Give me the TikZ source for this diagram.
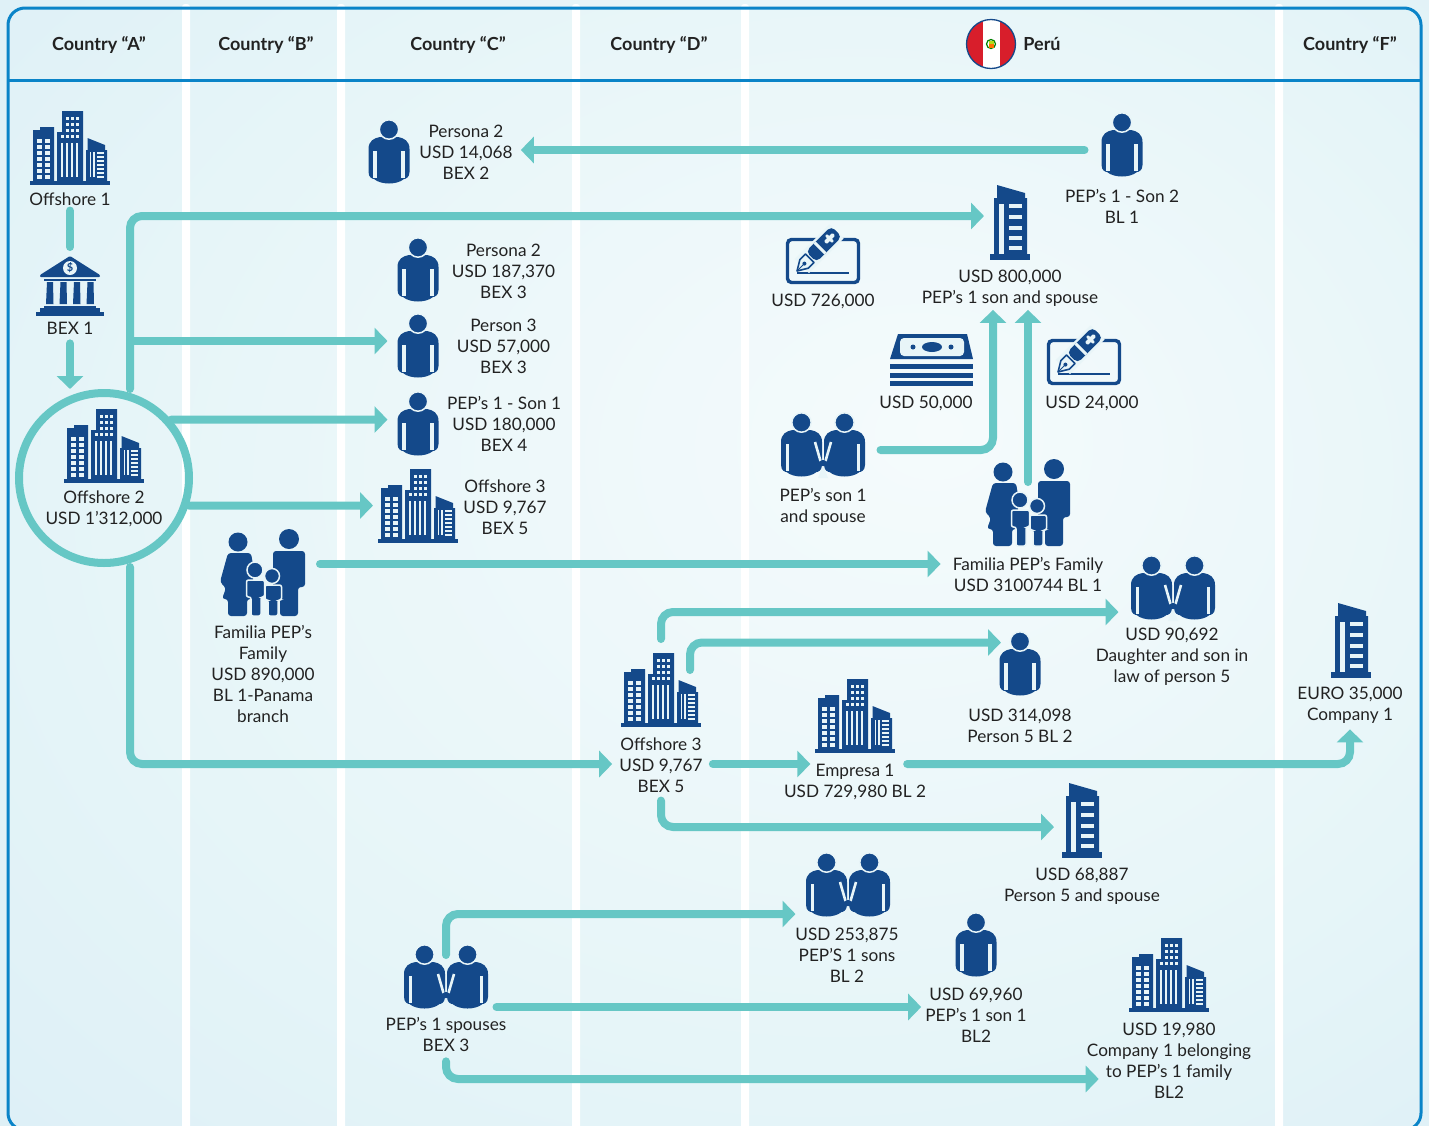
\documentclass[tikz,border=0pt]{standalone}
\usepackage{fontspec}
\setmainfont{Lato}
\usepackage{tikz}
\usetikzlibrary{arrows.meta}

\definecolor{navy}{HTML}{14498A}
\definecolor{pale}{HTML}{E8F5F8}
\definecolor{flowcol}{HTML}{66C7C5}
\definecolor{framecol}{HTML}{0A84C8}
\definecolor{inkcol}{HTML}{222222}
\definecolor{flagred}{HTML}{D81E2B}
\definecolor{glowa}{HTML}{F5FBFC}
\definecolor{glowb}{HTML}{E6F5F8}
\definecolor{glowc}{HTML}{D6EBF5}
\pgfdeclareradialshading{bgglow}{\pgfpoint{8bp}{6bp}}{color(0bp)=(glowa); color(25bp)=(glowb); color(50bp)=(glowc)}

\tikzset{
    flow/.style={draw=flowcol, line width=8pt, line cap=round, rounded corners=12pt},
    flowarrow/.style={flow, -{Triangle[width=26pt,length=13pt]}},
    vh/.style={to path={|- (\tikztotarget)}},
    hv/.style={to path={-| (\tikztotarget)}},
    lbl/.style={align=center, inner sep=0pt, text=inkcol, font=\fontsize{17.2}{21}\selectfont},
    head/.style={lbl, font=\fontsize{18}{21}\selectfont\bfseries},
    iconbox/.style={inner sep=0pt, outer sep=0pt},
    manbody/.pic={
        \fill[navy] (-20.5,-3) .. controls (-20.5,-11) and (-15,-14) .. (-9,-15) -- (9,-15)
            .. controls (15,-14) and (20.5,-11) .. (20.5,-3) -- (20.5,20)
            .. controls (20.5,26) and (16,27) .. (15,27) .. controls (8,33) and (-8,33) .. (-15,27)
            .. controls (-16,27) and (-20.5,26) .. (-20.5,20) -- cycle;
        \filldraw[navy, draw=pale, line width=1.5pt] (0,-22.5) circle (9.7);
    },
    person/.pic={
        \pic {manbody};
        \draw[pale, line width=3.2pt] (-14,-1) -- (-14,26) (14,-1) -- (14,26);
    },
    couple/.pic={
        \pic at (-21.5,0) {manbody};
        \pic at (21.5,0) {manbody};
        \draw[pale, line width=3.2pt] (-35.5,-1) -- (-35.5,26) (35.5,-1) -- (35.5,26);
        \draw[pale, line width=2.6pt] (-8,-3) -- (-2.5,16) (8,-3) -- (2.5,16);
        \fill[pale] (0,20) -- (-5,33) -- (5,33) -- cycle;
        \fill[navy] (0,18) circle (3.2);
    },
    family/.pic={
        \fill[navy] (-25,-31) circle (9.5);
        \fill[navy, rounded corners=3pt] (-35,-20) -- (-12,-20) -- (-10,-8) -- (-10,26) -- (-16,26)
            -- (-16,43) -- (-35,43) -- (-35,26) -- (-41,26) -- (-37,15) -- (-43,9) -- cycle;
        \fill[navy] (26,-34) circle (10);
        \fill[navy, rounded corners=3pt] (10,-22) -- (42,-22) -- (42,14) -- (35,14) -- (35,43)
            -- (17,43) -- (17,14) -- (10,14) -- cycle;
        \filldraw[navy, draw=pale, line width=1.5pt] (-8,-3) circle (8);
        \filldraw[navy, draw=pale, line width=1.5pt, rounded corners=2pt] (-16.5,7) -- (1.5,7) -- (1.5,24) -- (-2,24)
            -- (-2,43) -- (-12,43) -- (-12,24) -- (-16.5,24) -- cycle;
        \filldraw[navy, draw=pale, line width=1.5pt] (9,3) circle (7.5);
        \filldraw[navy, draw=pale, line width=1.5pt, rounded corners=2pt] (2,12) -- (18.5,12) -- (18.5,27) -- (15,27)
            -- (15,43) -- (5,43) -- (5,27) -- (2,27) -- cycle;
    },
    skyline/.pic={
        \fill[navy] (-40,33) rectangle (40,37);
        \fill[navy] (-37,33) -- (-37,-18) -- (-30,-18) -- (-30,-21) -- (-16,-21) -- (-16,33) -- cycle;
        \fill[navy] (-13,33) -- (-13,-16) -- (-8,-16) -- (-8,-37) -- (13,-37) -- (13,33) -- cycle;
        \fill[navy] (16,33) -- (16,2) -- (17.5,2) -- (17.5,-10) -- (35,-3) -- (35,2) -- (37,2) -- (37,33) -- cycle;
        \foreach \y in {-9,-3,3,9,15,21,27} {
            \fill[pale] (-33,\y) rectangle (-28,\y+3.6);
            \fill[pale] (-25,\y) rectangle (-20,\y+3.6);
        }
        \foreach \y in {-31,-25,-19,-13} \foreach \x in {-4.3,0.7,5.5} {
            \fill[pale] (\x,\y) rectangle (\x+3.3,\y+3.2);
        }
        \fill[pale] (-9.5,-13) rectangle (-6,-9.8);
        \foreach \x in {-9,-4,1,6} \fill[pale] (\x,-5) rectangle (\x+2.2,29);
        \foreach \x in {19.5,23} \fill[pale] (\x,4) rectangle (\x+1.8,29);
        \foreach \y in {4,8,12,16,20,24,27.5} \fill[pale] (27,\y) rectangle (33.5,\y+2);
    },
    tower/.pic={
        \fill[navy] (-20,31) rectangle (20,36.5);
        \fill[navy] (-16,31) -- (-16,-25) -- (-13,-25) -- (-13,-38) -- (15,-30) -- (15,-25) -- (17,-25) -- (17,31) -- cycle;
        \fill[pale] (-11,-19) rectangle (-6,31);
        \foreach \y in {-19,-8,3,13,23} \fill[pale] (-1,\y) rectangle (12,\y+4.2);
    },
    bankhouse/.pic={
        \fill[navy, rounded corners=1pt] (0,-30) -- (30,-11) -- (30,-9) -- (-30,-9) -- (-30,-11) -- cycle;
        \fill[pale] (0,-18) circle (7);
        \node[font=\fontsize{11}{11}\selectfont\bfseries, text=navy, inner sep=0pt] (dollar) at (0,-18) {\$};
        \fill[navy] (-26,-7.5) rectangle (26,-5);
        \foreach \x in {-24,-10.5,3,16.5} \fill[navy] (\x+1,-4) -- (\x+7,-4) -- (\x+7.5,18) -- (\x,18) -- cycle;
        \fill[navy] (-26,19.5) rectangle (26,22);
        \fill[navy] (-30,22) rectangle (30,26);
        \fill[navy] (-34,26) rectangle (34,30);
    },
    cheque/.pic={
        \draw[navy, line width=3.4pt, rounded corners=4pt] (-35.5,-21.5) rectangle (35.5,21.5);
        \draw[navy, line width=1.8pt] (-26,12) -- (26,12);
        \begin{scope}[shift={(-26,10)}, rotate=45]
            \draw[pale, line width=20pt] (7,0) -- (56,0);
            \filldraw[fill=pale, draw=navy, line width=1.6pt, line join=round] (0,0) -- (10,6) -- (18,6) -- (18,-6) -- (10,-6) -- cycle;
            \draw[navy, line width=1pt] (0,0) -- (10,0);
            \fill[navy] (10.5,0) circle (2);
            \fill[navy, rounded corners=5pt] (20,-7.5) rectangle (56,7.5);
            \fill[pale] (31,-7.5) rectangle (34,7.5);
            \fill[pale, rounded corners=1pt] (40,-2) rectangle (52,2);
            \fill[pale, rounded corners=1pt] (44.5,-5) rectangle (47.5,5);
        \end{scope}
    },
    banknotes/.pic={
        \fill[navy] (-33,-27) -- (36,-27) -- (42,-2) -- (-41,-2) -- cycle;
        \fill[pale, rounded corners=4pt] (-31,-23) -- (33,-23) -- (33,-5) -- (-31,-5) -- cycle;
        \fill[navy] (1,-14) ellipse (10 and 5);
        \fill[navy] (-18,-14) circle (2.5) (20,-14) circle (2.5);
        \foreach \y in {3,12,20} \fill[navy] (-41,\y) rectangle (42,\y+5);
    }
}

\begin{document}
\begin{tikzpicture}[x=1pt, y=-1pt]
    \useasboundingbox (0,0) rectangle (1429,1125);

    % background and bands
    \shade[shading=bgglow] (0,0) rectangle (1429,1125);
    \foreach \x in {182,337,572,741,1275}
        \fill[white, rounded corners=3pt] (\x,4) rectangle (\x+8,1130);
    \draw[framecol, line width=3pt, rounded corners=17pt] (8,8) rectangle (1421,1130);
    \draw[framecol, line width=3pt] (8,80) -- (1421,80);

    % header
    \node[head] (ca) at (99,45) {Country “A”};
    \node[head] (cb) at (266,45) {Country “B”};
    \node[head] (cc) at (458,45) {Country “C”};
    \node[head] (cd) at (659,45) {Country “D”};
    \node[head] (pe) at (1042,44) {Perú};
    \node[head] (cf) at (1350,45) {Country “F”};
    \begin{scope}
        \clip (991,44) circle (24.5);
        \fill[flagred] (966,19) rectangle (1016,69);
        \fill[white] (983,19) rectangle (1000,69);
    \end{scope}
    \draw[navy, line width=1.3pt] (991,44) circle (24.5);
    \draw[green!50!black, line width=1.2pt] (991,44) circle (4.5);
    \fill[orange!90!red] (988.5,44) rectangle (993.5,48);
    \fill[yellow!70!green] (988.5,40.5) rectangle (993.5,44);

    % icons
    \foreach \nm/\x/\y in {off1/70/148, off2/104/446, off3a/418/506, off3b/661/690, emp/855/716, co1/1169/975}{
        \node[iconbox, minimum width=80pt, minimum height=74pt] (\nm) at (\x,\y) {};
        \pic at (\nm) {skyline};
    }
    \foreach \nm/\x/\y in {p2a/389/152, p2b/418/270, p3/418/346, son1/418/424, son2/1122/145, p5/1020/664, son1b/976/945}{
        \node[iconbox, minimum width=41pt, minimum height=64pt] (\nm) at (\x,\y) {};
        \pic at (\nm) {person};
    }
    \foreach \nm/\x/\y in {sonsp/823/445, dau/1173/588, sons/848/885, spo/446/977}{
        \node[iconbox, minimum width=85pt, minimum height=64pt] (\nm) at (\x,\y) {};
        \pic at (\nm) {couple};
    }
    \foreach \nm/\x/\y in {famb/263/573, famp/1028/503}{
        \node[iconbox, minimum width=86pt, minimum height=86pt] (\nm) at (\x,\y) {};
        \pic at (\nm) {family};
    }
    \foreach \nm/\x/\y in {tw1/1010/223, tw2/1351/641, tw3/1082/821}{
        \node[iconbox, minimum width=40pt, minimum height=74pt] (\nm) at (\x,\y) {};
        \pic at (\nm) {tower};
    }
    \foreach \nm/\x/\y in {chq1/823/261, chq2/1084/362}{
        \node[iconbox, minimum width=74pt, minimum height=46pt] (\nm) at (\x,\y) {};
        \pic at (\nm) {cheque};
    }
    \node[iconbox, minimum width=68pt, minimum height=60pt] (bank) at (70,286) {};
    \pic at (bank) {bankhouse};
    \node[iconbox, minimum width=83pt, minimum height=52pt] (cash) at (931,361) {};
    \pic at (cash) {banknotes};
    \node[circle, draw=flowcol, line width=8pt, inner sep=0pt, minimum size=170pt] (circ) at (104,478) {};

    % labels
    \node[lbl] (loff1) at (70,199) {Offshore 1};
    \node[lbl] (lbex1) at (70,328) {BEX 1};
    \node[lbl] (loff2) at (104,508.5) {Offshore 2\\USD 1’312,000};
    \node[lbl] (lp2a) at (466,152) {Persona 2\\USD 14,068\\BEX 2};
    \node[lbl] (lp2b) at (503.5,271) {Persona 2\\USD 187,370\\BEX 3};
    \node[lbl] (lp3) at (503.5,346) {Person 3\\USD 57,000\\BEX 3};
    \node[lbl] (lson1) at (504,424) {PEP’s 1 - Son 1\\USD 180,000\\BEX 4};
    \node[lbl] (loff3a) at (505,507) {Offshore 3\\USD 9,767\\BEX 5};
    \node[lbl] (lson2) at (1122,206) {PEP’s 1 - Son 2\\BL 1};
    \node[lbl] (ltw1) at (1010,288.5) {USD 800,000\\PEP’s 1 son and spouse};
    \node[lbl] (lchq1) at (823,301) {USD 726,000};
    \node[lbl] (lcash) at (926,403.5) {USD 50,000};
    \node[lbl] (lchq2) at (1092,403.5) {USD 24,000};
    \node[lbl] (lsonsp) at (823,507) {PEP’s son 1\\and spouse};
    \node[lbl] (lfamp) at (1028,574) {Familia PEP’s Family\\USD 3100744 BL 1};
    \node[lbl] (lfamb) at (263,674) {Familia PEP’s\\Family\\USD 890,000\\BL 1-Panama\\branch};
    \node[lbl] (ldau) at (1172,657) {USD 90,692\\Daughter and son in\\law of person 5};
    \node[lbl] (lp5) at (1020,726) {USD 314,098\\Person 5 BL 2};
    \node[lbl] (ltw2) at (1350,705) {EURO 35,000\\Company 1};
    \node[lbl] (loff3b) at (661,765) {Offshore 3\\USD 9,767\\BEX 5};
    \node[lbl] (lemp) at (855,782) {Empresa 1\\USD 729,980 BL 2};
    \node[lbl] (ltw3) at (1082,886.5) {USD 68,887\\Person 5 and spouse};
    \node[lbl] (lsons) at (847,955) {USD 253,875\\PEP’S 1 sons\\BL 2};
    \node[lbl] (lson1b) at (976,1015) {USD 69,960\\PEP’s 1 son 1\\BL2};
    \node[lbl] (lco1) at (1169,1061) {USD 19,980\\Company 1 belonging\\to PEP’s 1 family\\BL2};
    \node[lbl] (lspo) at (446,1034) {PEP’s 1 spouses\\BEX 3};

    % connectors
    \path
    ([yshift=-5]loff1.south) edge[flow] ([yshift=9]bank.north)
    ([yshift=-9]lbex1.south) edge[flowarrow] (lbex1.south |- circ.north)
    ([xshift=26]circ.north) edge[flowarrow, vh] ([xshift=-6,yshift=7]tw1.west)
    ([xshift=26]circ.south) edge[flowarrow, vh] ([xshift=-7,yshift=1]loff3b.west)
    ([xshift=-267,yshift=5]p3.west) edge[flowarrow] ([xshift=-10,yshift=5]p3.west)
    (circ.41) edge[flowarrow] ([xshift=-10,yshift=4.4]son1.west)
    (circ.-18) edge[flowarrow] ([xshift=-5,yshift=0.5]off3a.west)
    ([xshift=-17,yshift=-5]son2.west) edge[flowarrow] ([xshift=8,yshift=2]lp2a.east)
    ([xshift=14,yshift=9]famb.east) edge[flowarrow] ([xshift=-12,yshift=10]lfamp.west)
    ([xshift=15,yshift=-5]sonsp.east) edge[flowarrow, hv] ([xshift=-17,yshift=-3]ltw1.south)
    ([yshift=-22]famp.north) edge[flowarrow] ([xshift=18,yshift=-3]ltw1.south)
    ([yshift=14]off3b.north) edge[flowarrow, vh] ([xshift=-12,yshift=-24]dau.west)
    ([xshift=29,yshift=-17]off3b.north) edge[flowarrow, vh] ([xshift=1.5,yshift=21.5]p5.west)
    ([xshift=10,yshift=1]loff3b.east) edge[flowarrow] ([xshift=26.5,yshift=18]lemp.west)
    ([xshift=-19,yshift=18]lemp.east) edge[flowarrow, hv] ([yshift=-6]ltw2.south)
    ([yshift=-8]loff3b.south) edge[flowarrow, vh] ([xshift=-8,yshift=-6]tw3.west)
    ([yshift=-10]spo.north) edge[flowarrow, vh] ([xshift=-10,yshift=-29]sons.west)
    ([xshift=8,yshift=-30]spo.east) edge[flowarrow] ([xshift=-4,yshift=8]lson1b.west)
    ([yshift=-10]lspo.south) edge[flowarrow, vh] ([xshift=12,yshift=-18]lco1.west);
\end{tikzpicture}
\end{document}
